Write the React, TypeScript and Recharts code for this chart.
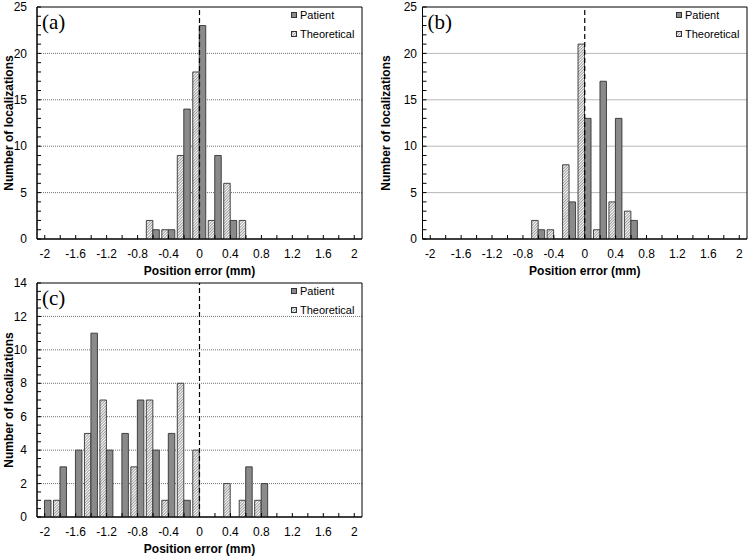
import React from 'react';
import {
  BarChart,
  Bar,
  XAxis,
  YAxis,
  CartesianGrid,
  ReferenceLine,
  ReferenceArea,
  Legend,
} from 'recharts';

const FONT = '"Liberation Sans", Arial, Helvetica, sans-serif';
const SERIF = '"Liberation Serif", "Times New Roman", serif';

// Bin centres (mm), 0.2 mm wide bins
const binLabels = [
  '-2', '-1.8', '-1.6', '-1.4', '-1.2', '-1', '-0.8', '-0.6', '-0.4', '-0.2',
  '0', '0.2', '0.4', '0.6', '0.8', '1', '1.2', '1.4', '1.6', '1.8', '2',
];
const xMajorLabels = ['-2', '-1.6', '-1.2', '-0.8', '-0.4', '0', '0.4', '0.8', '1.2', '1.6', '2'];

// Panel (a)
const patientA = [0, 0, 0, 0, 0, 0, 0, 1, 1, 14, 23, 9, 2, 0, 0, 0, 0, 0, 0, 0, 0];
const theoreticalA = [0, 0, 0, 0, 0, 0, 0, 2, 1, 9, 18, 2, 6, 2, 0, 0, 0, 0, 0, 0, 0];
// Panel (b)
const patientB = [0, 0, 0, 0, 0, 0, 0, 1, 0, 4, 13, 17, 13, 2, 0, 0, 0, 0, 0, 0, 0];
const theoreticalB = [0, 0, 0, 0, 0, 0, 0, 2, 1, 8, 21, 1, 4, 3, 0, 0, 0, 0, 0, 0, 0];
// Panel (c)
const patientC = [1, 3, 4, 11, 4, 5, 7, 4, 5, 1, 0, 0, 0, 3, 2, 0, 0, 0, 0, 0, 0];
const theoreticalC = [0, 1, 0, 5, 7, 0, 3, 7, 1, 8, 4, 0, 2, 1, 1, 0, 0, 0, 0, 0, 0];

// Y ticks
const yTicksAB = [0, 1, 2, 3, 4, 5, 6, 7, 8, 9, 10, 11, 12, 13, 14, 15, 16, 17, 18, 19, 20, 21, 22, 23, 24, 25];
const yMajorAB = [0, 5, 10, 15, 20, 25];
const yTicksC = [0, 0.5, 1, 1.5, 2, 2.5, 3, 3.5, 4, 4.5, 5, 5.5, 6, 6.5, 7, 7.5, 8, 8.5, 9, 9.5, 10, 10.5, 11, 11.5, 12, 12.5, 13, 13.5, 14];
const yMajorC = [0, 2, 4, 6, 8, 10, 12, 14];

const legendOrder = ['Patient', 'Theoretical'];

const PATIENT_FILL = '#8a8a8a';
const BAR_STROKE = '#333333';

const XTick = (props: any) => {
  const { x, y, payload } = props;
  const label = String(payload.value);
  const major = xMajorLabels.includes(label);
  return (
    <g>
      <line x1={x} x2={x} y1={y} y2={y - 4} stroke="#000" strokeWidth={1} />
      {major && (
        <text x={x} y={y + 19} textAnchor="middle" fontSize={12} fontFamily={FONT} fill="#000">
          {label}
        </text>
      )}
    </g>
  );
};

const makeYTick = (majors: number[], gap: number) => (props: any) => {
  const { x, y, payload } = props;
  const v = Number(payload.value);
  return (
    <g>
      <line x1={x} x2={x + 4} y1={y} y2={y} stroke="#000" strokeWidth={1} />
      {majors.includes(v) && (
        <text x={x - gap} y={y} dy="0.35em" textAnchor="end" fontSize={12} fontFamily={FONT} fill="#000">
          {v}
        </text>
      )}
    </g>
  );
};

const HatchDef = ({ id }: { id: string }) => (
  <pattern id={id} patternUnits="userSpaceOnUse" width={2} height={2} patternTransform="rotate(45)">
    <rect x={0} y={0} width={2} height={2} fill="#ffffff" />
    <line x1={0} y1={0} x2={0} y2={2} stroke="#3a3a3a" strokeWidth={1} />
  </pattern>
);

const makeLegend = (id: string) => (props: any) => {
  const payload: any[] = props.payload || [];
  const items = legendOrder.map((n) => payload.find((p) => p.value === n) || { value: n });
  return (
    <div style={{ fontFamily: FONT, fontSize: 11, color: '#000' }}>
      {items.map((it) => (
        <div key={it.value} style={{ display: 'flex', alignItems: 'center', height: 19, whiteSpace: 'nowrap' }}>
          <svg width={6} height={6} style={{ marginRight: 3, flex: 'none' }}>
            <defs>
              <HatchDef id={`leg-${id}`} />
            </defs>
            <rect
              x={0.5}
              y={0.5}
              width={5}
              height={5}
              fill={it.value === 'Patient' ? PATIENT_FILL : `url(#leg-${id})`}
              stroke={BAR_STROKE}
              strokeWidth={1}
            />
          </svg>
          <span>{it.value}</span>
        </div>
      ))}
    </div>
  );
};

type PanelProps = {
  id: string;
  tag: string;
  patient: number[];
  theoretical: number[];
  yTicks: number[];
  yMajor: number[];
  yMax: number;
  yAxisWidth: number;
  tickGap: number;
  titleOffset: number;
  marginRight: number;
  left: number;
  top: number;
  height: number;
};

const CHART_W = 375;
const MARGIN_TOP = 7;

const Panel = (p: PanelProps) => {
  const data = binLabels.map((bin, i) => ({
    bin,
    Theoretical: p.theoretical[i],
    Patient: p.patient[i],
  }));
  const hatchId = `hatch-${p.id}`;
  const plotRight = CHART_W - p.marginRight;
  const gridValues = p.yMajor.filter((v) => v > 0 && v < p.yMax);
  return (
    <div style={{ position: 'absolute', left: p.left, top: p.top }}>
      <BarChart
        width={CHART_W}
        height={p.height}
        data={data}
        margin={{ top: MARGIN_TOP, right: p.marginRight, bottom: 0, left: 0 }}
        barGap={0}
        style={{ fontFamily: FONT }}
      >
        <defs>
          <HatchDef id={hatchId} />
        </defs>
        <CartesianGrid
          vertical={false}
          horizontalValues={gridValues}
          stroke="#707070"
          strokeDasharray="1 1"
        />
        <XAxis
          dataKey="bin"
          type="category"
          interval={0}
          tick={XTick}
          tickLine={false}
          tickSize={0}
          tickMargin={0}
          height={39}
          axisLine={{ stroke: '#000' }}
          label={{
            content: (lp: any) => {
              const vb = lp.viewBox || {};
              return (
                <text
                  x={vb.x + vb.width / 2}
                  y={vb.y + 36}
                  textAnchor="middle"
                  fontSize={12}
                  fontWeight="bold"
                  fontFamily={FONT}
                  fill="#000"
                >
                  Position error (mm)
                </text>
              );
            },
          }}
        />
        <YAxis
          type="number"
          domain={[0, p.yMax]}
          ticks={p.yTicks}
          interval={0}
          tick={makeYTick(p.yMajor, p.tickGap)}
          tickLine={false}
          tickSize={0}
          tickMargin={0}
          width={p.yAxisWidth}
          axisLine={{ stroke: '#000' }}
          allowDataOverflow
          label={{
            content: (lp: any) => {
              const vb = lp.viewBox || {};
              const cx = vb.x + vb.width - p.titleOffset;
              const cy = vb.y + vb.height / 2;
              return (
                <text
                  x={cx}
                  y={cy}
                  dy="0.35em"
                  textAnchor="middle"
                  transform={`rotate(-90 ${cx} ${cy})`}
                  fontSize={12}
                  fontWeight="bold"
                  fontFamily={FONT}
                  fill="#000"
                >
                  Number of localizations
                </text>
              );
            },
          }}
        />
        <Bar
          dataKey="Theoretical"
          name="Theoretical"
          fill={`url(#${hatchId})`}
          stroke={BAR_STROKE}
          strokeWidth={0.9}
          barSize={6.5}
          isAnimationActive={false}
        />
        <Bar
          dataKey="Patient"
          name="Patient"
          fill={PATIENT_FILL}
          stroke={BAR_STROKE}
          strokeWidth={0.9}
          barSize={6.5}
          isAnimationActive={false}
        />
        <ReferenceLine x="0" stroke="#000" strokeWidth={1.2} strokeDasharray="5 3" />
        <ReferenceArea
          x1={binLabels[0]}
          x2={binLabels[binLabels.length - 1]}
          y1={0}
          y2={p.yMax}
          fill="none"
          fillOpacity={0}
          stroke="#000"
          strokeWidth={1}
          label={{
            content: (lp: any) => {
              const vb = lp.viewBox || {};
              return (
                <text x={vb.x + 5} y={vb.y + 22} fontSize={21} fontFamily={SERIF} fill="#000">
                  {p.tag}
                </text>
              );
            },
          }}
        />
        <Legend
          layout="horizontal"
          verticalAlign="middle"
          align="center"
          content={makeLegend(p.id)}
          wrapperStyle={{ left: plotRight - 71, top: MARGIN_TOP - 1.5, width: 80, height: 40 }}
        />
      </BarChart>
    </div>
  );
};

export default function App() {
  return (
    <div style={{ position: 'absolute', left: 0, top: 0, width: 750, height: 556, background: '#fff' }}>
      <Panel
        id="a"
        tag="(a)"
        patient={patientA}
        theoretical={theoreticalA}
        yTicks={yTicksAB}
        yMajor={yMajorAB}
        yMax={25}
        yAxisWidth={37}
        tickGap={10}
        titleOffset={28.5}
        marginRight={13}
        left={0}
        top={0}
        height={278}
      />
      <Panel
        id="b"
        tag="(b)"
        patient={patientB}
        theoretical={theoreticalB}
        yTicks={yTicksAB}
        yMajor={yMajorAB}
        yMax={25}
        yAxisWidth={47.5}
        tickGap={5.5}
        titleOffset={36.5}
        marginRight={3}
        left={375}
        top={0}
        height={278}
      />
      <Panel
        id="c"
        tag="(c)"
        patient={patientC}
        theoretical={theoreticalC}
        yTicks={yTicksC}
        yMajor={yMajorC}
        yMax={14}
        yAxisWidth={37}
        tickGap={10}
        titleOffset={28.5}
        marginRight={13}
        left={0}
        top={276}
        height={280}
      />
    </div>
  );
}
